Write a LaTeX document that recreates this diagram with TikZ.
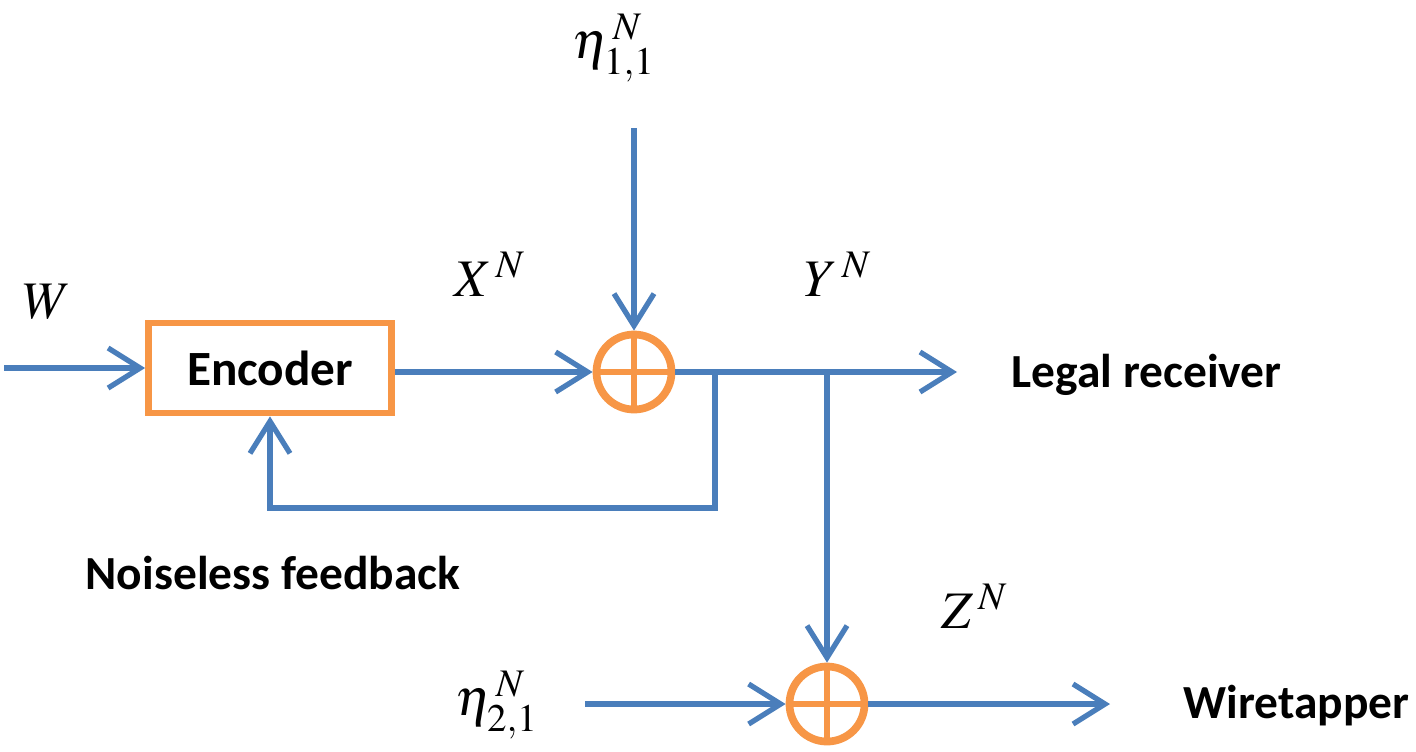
\documentclass[tikz,border=0pt]{standalone}
\usepackage{mathptmx}
\usepackage[no-math]{fontspec}
\setmainfont{Carlito}
\usetikzlibrary{arrows.meta}

\definecolor{linkblue}{HTML}{4A7EBB}
\definecolor{boxorange}{HTML}{F79646}

\tikzset{
  link/.style={draw=linkblue, line width=1.5pt, -{Straight Barb[length=3.2mm,width=4mm]}},
  block/.style={draw=boxorange, line width=1.9pt, minimum width=2.43cm, minimum height=0.9cm,
    font=\fontsize{14}{16}\selectfont\bfseries},
  adder/.style={circle, draw=boxorange, line width=2.2pt, minimum size=0.75cm, inner sep=0pt,
    path picture={\draw[boxorange, line width=1.7pt]
      (path picture bounding box.north) -- (path picture bounding box.south)
      (path picture bounding box.west) -- (path picture bounding box.east);}},
  lbl/.style={font=\fontsize{13.5}{16}\selectfont\bfseries, inner sep=0pt},
  sym/.style={font=\fontsize{15}{18}\selectfont, inner sep=0pt},
}

\begin{document}
\begin{tikzpicture}[x=0.01cm, y=-0.01cm]
    \useasboundingbox (0,0) rectangle (1416,751);
    %% blocks
    \node[block] (enc) at (270,368) {\raisebox{-2pt}{Encoder}};
    \node[adder] (add1) at (634,372) {};
    \node[adder] (add2) at (827,704) {};
    %% symbols
    \node[sym] (w) at (47,302) {$W$};
    \node[sym] (eta1) at (614,48) {$\eta^{\,N}_{1,1}$};
    \node[sym] (x) at (490,274) {$X^{\,N}$};
    \node[sym] (y) at (838,274) {$Y^{\,N}$};
    \node[sym] (z) at (975,606) {$Z^{\,N}$};
    \node[sym] (eta2) at (497,705) {$\eta^{\,N}_{2,1}$};
    %% texts
    \node[lbl, anchor=west] (legal) at (1011,375) {Legal receiver};
    \node[lbl, anchor=east] (wire) at (1410,706) {Wiretapper};
    \node[lbl, anchor=west] (fblbl) at (85,573) {Noiseless feedback};
    %% end points
    \coordinate (src) at (4,368);
    \coordinate (n1) at (634,128);
    \coordinate (rx) at (957,372);
    \coordinate (fb) at (715,372);   % feedback tap
    \coordinate (fbb) at (715,508);
    \coordinate (tap) at (827,372);  % wiretap tap
    \coordinate (n2) at (585,704);
    \coordinate (ev) at (1110,704);
    %% connectors
    \draw[link] (src) -- (enc.west);
    \draw[link] (add1.west -| enc.east) -- (add1.west);
    \draw[link] (n1) -- (add1.north);
    \draw[link] (add1.east) -- (rx);
    \draw[link] (fb) -- (fbb) -| (enc.south);
    \draw[link] (tap) -- (add2.north);
    \draw[link] (n2) -- (add2.west);
    \draw[link] (add2.east) -- (ev);
\end{tikzpicture}
\end{document}
